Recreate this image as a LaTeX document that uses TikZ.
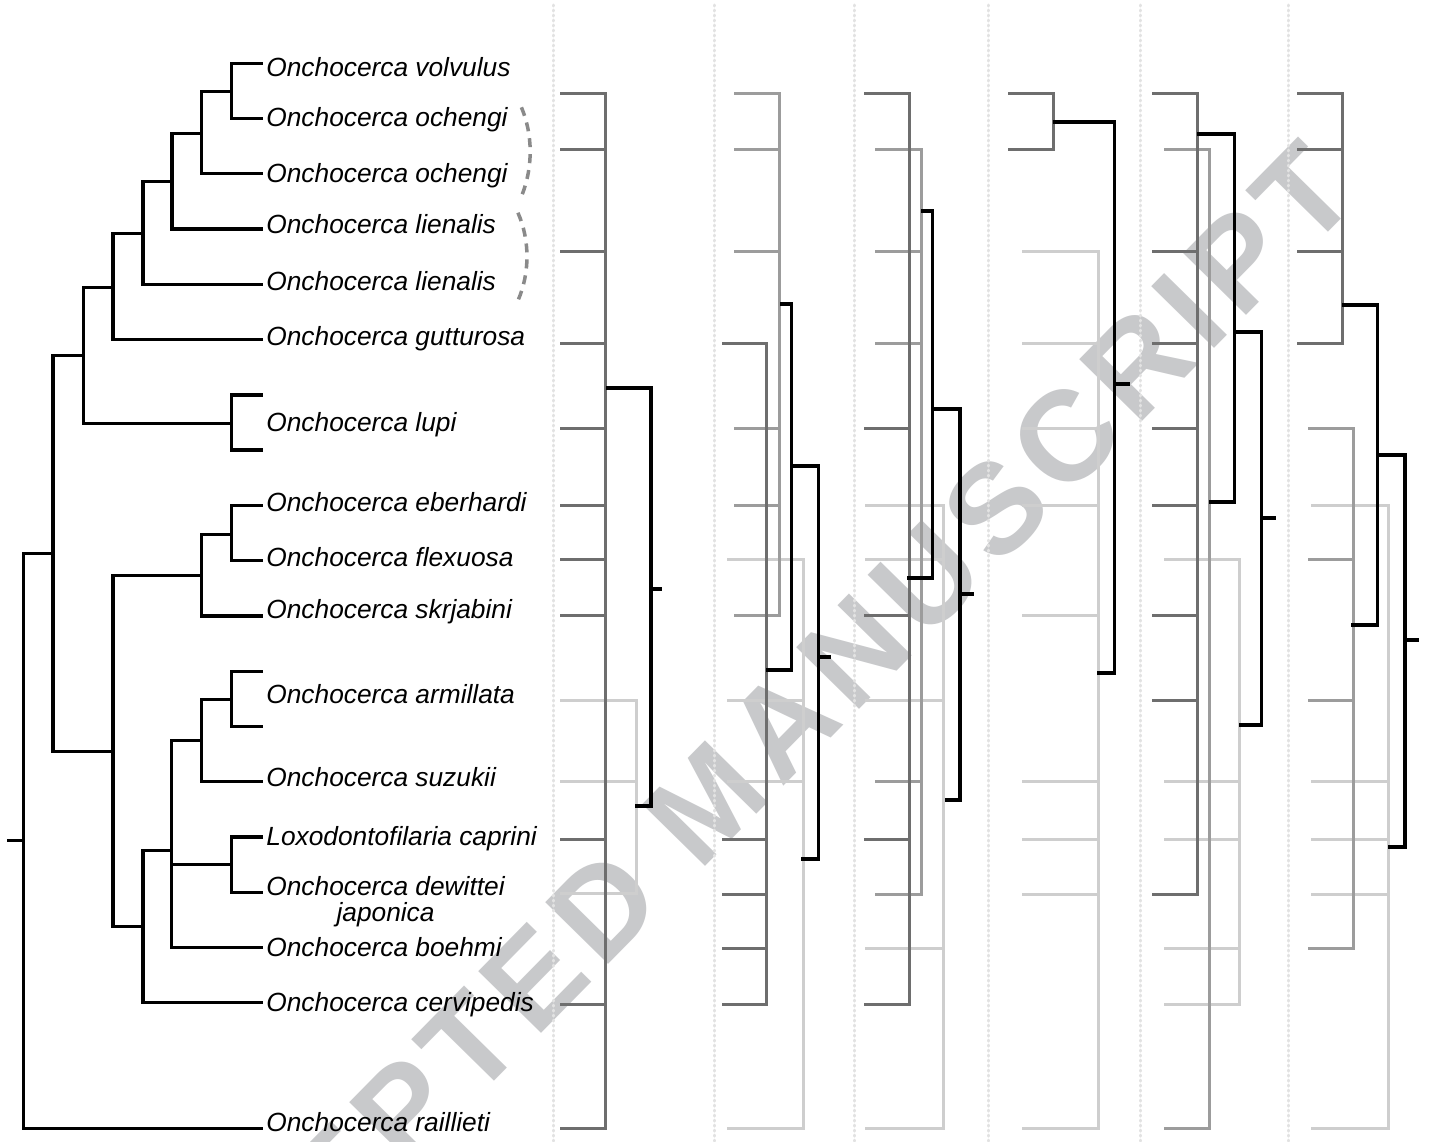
\documentclass[tikz,border=0pt]{standalone}
\usepackage{fontspec}
\setmainfont{Liberation Sans}
\usepackage{tikz}
\usetikzlibrary{calc}
\definecolor{TreeDark}{HTML}{6E6E6E}
\definecolor{TreeMid}{HTML}{9C9C9C}
\definecolor{TreeLight}{HTML}{CECECE}
\definecolor{SepGrey}{HTML}{E2E2E2}
\definecolor{MarkGrey}{HTML}{C8C9CB}
\definecolor{BracketGrey}{HTML}{8A8A8A}

\begin{document}
\begin{tikzpicture}[x=0.5pt, y=-0.5pt,
    branch/.style={line width=1.65pt, line cap=rect},
    taxon/.style={anchor=base west, inner sep=0pt,
      font=\fontsize{13.15pt}{15pt}\selectfont\itshape},
    dk/.style={TreeDark, line width=1.5pt, line cap=rect},
    md/.style={TreeMid, line width=1.5pt, line cap=rect},
    lt/.style={TreeLight, line width=1.5pt, line cap=rect},
    link/.style={black, line width=1.75pt, line cap=rect},
    sep/.style={SepGrey, line width=1.5pt, line cap=round, dash pattern=on 0.5pt off 2pt},
    bracket/.style={BracketGrey, line width=1.75pt, dash pattern=on 4.5pt off 3.5pt}]
    % Frame
    \useasboundingbox (0,0) rectangle (1434,1141);
    \fill[white] (0,0) rectangle (1434,1141);
    % Watermark
    \begin{scope}
      \clip (0,0) rectangle (1434,1141);
      \node (mark) [rotate=45.5, MarkGrey,
        font=\fontsize{64pt}{68pt}\selectfont\bfseries\addfontfeature{LetterSpace=8}]
        at (712,797) {ACCEPTED MANUSCRIPT};
    \end{scope}
    % Separators
    \foreach \x in {553,714,854,988,1140,1288}
      \draw[sep] (\x,5) -- (\x,1141);
    % Tree: tips and inner nodes
    \foreach \i in {1,...,18}
      \coordinate (t\i) at (261,{63.3+55.26*(\i-1)});
    \coordinate (t19) at (261,1128.3);
    \coordinate (vo) at (231.4,91.3);
    \coordinate (voo) at (201.8,133.2);
    \coordinate (vool) at (172,181.6);
    \coordinate (vooll) at (142.9,233.6);
    \coordinate (volg) at (112.9,287.3);
    \coordinate (lu) at (231.4,423.5);
    \coordinate (cladeA) at (83.2,355.4);
    \coordinate (ef) at (231.4,534.2);
    \coordinate (efs) at (201.8,575.5);
    \coordinate (ar) at (231.4,699.2);
    \coordinate (ars) at (201.8,740.4);
    \coordinate (cd) at (231.4,864.2);
    \coordinate (tri) at (171.5,850.8);
    \coordinate (tric) at (142.9,926.8);
    \coordinate (cladeB) at (112.9,751.2);
    \coordinate (inner) at (53,553.3);
    \coordinate (root) at (23.2,840.8);
    % Tree: branches
    \draw[branch] (t1) -| (vo) |- (t2);
    \draw[branch] (vo) -| (voo) |- (t3);
    \draw[branch] (voo) -| (vool) |- (t4);
    \draw[branch] (vool) -| (vooll) |- (t5);
    \draw[branch] (vooll) -| (volg) |- (t6);
    \draw[branch] (t7) -| (lu) |- (t8);
    \draw[branch] (volg) -| (cladeA) |- (lu);
    \draw[branch] (t9) -| (ef) |- (t10);
    \draw[branch] (ef) -| (efs) |- (t11);
    \draw[branch] (t12) -| (ar) |- (t13);
    \draw[branch] (ar) -| (ars) |- (t14);
    \draw[branch] (t15) -| (cd) |- (t16);
    \draw[branch] (ars) -| (tri) |- (t17);
    \draw[branch] (cd) -- (cd -| tri);
    \draw[branch] (tri) -| (tric) |- (t18);
    \draw[branch] (efs) -| (cladeB) |- (tric);
    \draw[branch] (cladeA) -| (inner) |- (cladeB);
    \draw[branch] (inner) -| (root) |- (t19);
    \draw[branch] (root) -- ++(-14.2,0);
    % Taxa
    \node (ovol) [taxon] at (266,76.7) {Onchocerca volvulus};
    \node (ooch) [taxon] at (266,126.7) {Onchocerca ochengi};
    \node (oochb) [taxon] at (266,182.3) {Onchocerca ochengi};
    \node (olie) [taxon] at (266,233.3) {Onchocerca lienalis};
    \node (olieb) [taxon] at (266,290) {Onchocerca lienalis};
    \node (ogut) [taxon] at (266,345) {Onchocerca gutturosa};
    \node (olup) [taxon] at (266,431.7) {Onchocerca lupi};
    \node (oebe) [taxon] at (266,511.7) {Onchocerca eberhardi};
    \node (oflx) [taxon] at (266,566.7) {Onchocerca flexuosa};
    \node (oskr) [taxon] at (266,618.7) {Onchocerca skrjabini};
    \node (oarm) [taxon] at (266,703) {Onchocerca armillata};
    \node (osuz) [taxon] at (266,786.7) {Onchocerca suzukii};
    \node (lcap) [taxon] at (266,845) {Loxodontofilaria caprini};
    \node (odew) [taxon, align=center] at (266,921)
      {Onchocerca dewittei\\[-2.35pt]japonica};
    \node (oboe) [taxon] at (266,956.7) {Onchocerca boehmi};
    \node (ocer) [taxon] at (266,1011.7) {Onchocerca cervipedis};
    \node (orai) [taxon] at (266,1131.7) {Onchocerca raillieti};
    % Dashed brackets
    \draw[bracket] (521.4,107.3) .. controls (533,135) and (533,167) .. (522,195);
    \draw[bracket] (517.9,212.7) .. controls (530,240) and (530,273) .. (517.9,300.7);
    % Column 1
    \foreach \y in {700,781,893}
      \draw[lt] (561,\y) -- (636.7,\y);
    \draw[lt] (636.7,700) -- (636.7,893);
    \foreach \y in {93,149,251,343,428,505,559,615,839,1004,1128}
      \draw[dk] (561,\y) -- (605.7,\y);
    \draw[dk] (605.7,93) -- (605.7,1128);
    \draw[link] (608,388) -- (651,388) -- (651,806) -- (636.7,806);
    \draw[link] (651,589) -- (660,589);
    % Column 2
    \foreach \y in {559,700,781,1128}
      \draw[lt] (728,\y) -- (803,\y);
    \draw[lt] (803,559) -- (803,1128);
    \foreach \y in {93,149,251,428,505,615}
      \draw[md] (735.7,\y) -- (779.3,\y);
    \draw[md] (779.3,93) -- (779.3,615);
    \foreach \y in {343,839,894,948,1004}
      \draw[dk] (723,\y) -- (766.7,\y);
    \draw[dk] (766.7,343) -- (766.7,1004);
    \draw[link] (781.7,304) -- (791.7,304) -- (791.7,670) -- (768,670);
    \draw[link] (793,466) -- (818.3,466) -- (818.3,859) -- (803,859);
    \draw[link] (818.3,657) -- (829,657);
    % Column 3
    \foreach \y in {505,559,700,948,1128}
      \draw[lt] (866.7,\y) -- (943.3,\y);
    \draw[lt] (943.3,505) -- (943.3,1128);
    \foreach \y in {149,251,343,781,894}
      \draw[md] (876,\y) -- (921,\y);
    \draw[md] (921,149) -- (921,894);
    \foreach \y in {93,428,615,839,1004}
      \draw[dk] (865,\y) -- (909,\y);
    \draw[dk] (909,93) -- (909,1004);
    \draw[link] (923,211) -- (932.5,211) -- (932.5,578) -- (909,578);
    \draw[link] (935,409) -- (960,409) -- (960,800) -- (946.7,800);
    \draw[link] (960,594) -- (972.7,594);
    % Column 4
    \foreach \y in {251,343,428,505,615,781,839,894,1128}
      \draw[lt] (1023,\y) -- (1098,\y);
    \draw[lt] (1098,251) -- (1098,1128);
    \foreach \y in {93,149}
      \draw[dk] (1009,\y) -- (1053.3,\y);
    \draw[dk] (1053.3,93) -- (1053.3,149);
    \draw[link] (1055,122) -- (1114.3,122) -- (1114.3,673) -- (1099,673);
    \draw[link] (1114.3,384) -- (1128.3,384);
    % Column 5
    \foreach \y in {559,781,839,948,1004}
      \draw[lt] (1165,\y) -- (1239.3,\y);
    \draw[lt] (1239.3,559) -- (1239.3,1004);
    \foreach \y in {149,1128}
      \draw[md] (1165.7,\y) -- (1209.5,\y);
    \draw[md] (1209.5,149) -- (1209.5,1128);
    \foreach \y in {93,251,343,428,505,615,700,894}
      \draw[dk] (1153.3,\y) -- (1197.7,\y);
    \draw[dk] (1197.7,93) -- (1197.7,894);
    \draw[link] (1198.3,134) -- (1234.5,134) -- (1234.5,502) -- (1211,502);
    \draw[link] (1236.7,332) -- (1261.7,332) -- (1261.7,725) -- (1241,725);
    \draw[link] (1261.7,518) -- (1274.3,518);
    % Column 6
    \foreach \y in {505,781,839,894,1128}
      \draw[lt] (1312,\y) -- (1388,\y);
    \draw[lt] (1388,505) -- (1388,1128);
    \foreach \y in {428,559,700,948}
      \draw[md] (1309,\y) -- (1353,\y);
    \draw[md] (1353,428) -- (1353,948);
    \foreach \y in {93,149,251,343}
      \draw[dk] (1298.3,\y) -- (1342.7,\y);
    \draw[dk] (1342.7,93) -- (1342.7,343);
    \draw[link] (1344,305) -- (1377.5,305) -- (1377.5,625) -- (1353,625);
    \draw[link] (1379,455) -- (1405,455) -- (1405,847) -- (1390,847);
    \draw[link] (1405,640) -- (1417,640);
\end{tikzpicture}
\end{document}
